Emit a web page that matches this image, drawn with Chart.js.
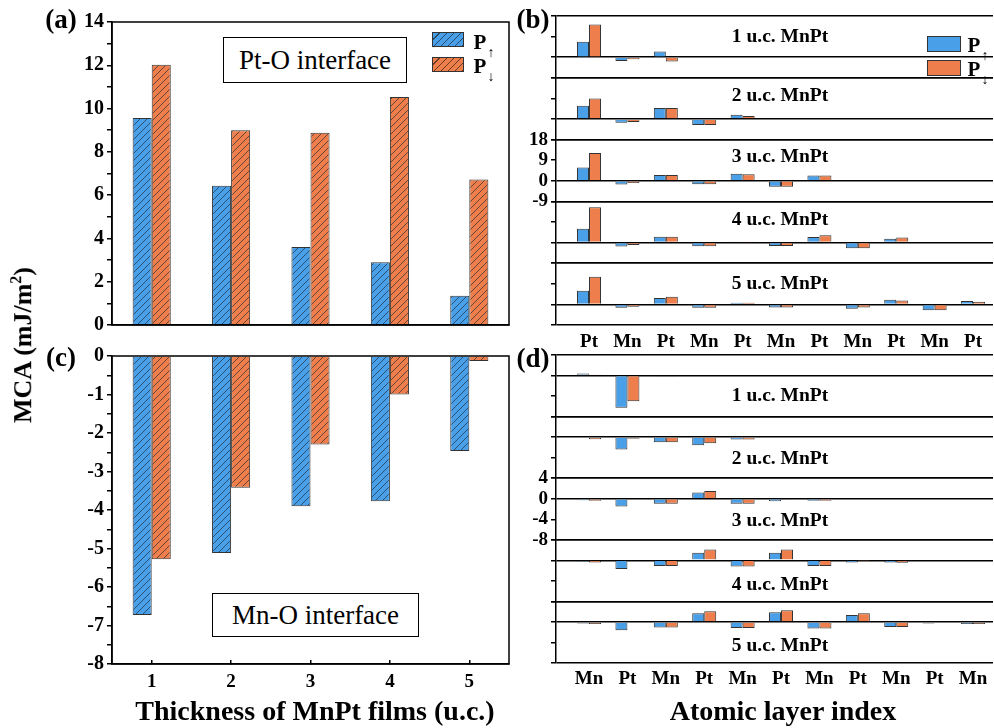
<!DOCTYPE html>
<html>
<head>
<meta charset="utf-8">
<script src="https://cdn.jsdelivr.net/npm/chart.js@4.4.1/dist/chart.umd.min.js"></script>
<style>
  body { margin: 0; background: #fff; width: 994px; height: 728px; overflow: hidden; position: relative;
         font-family: "Liberation Serif", "Times New Roman", serif; color: #000; }
  canvas { position: absolute; }
  .t { position: absolute; white-space: nowrap; transform: translate(-50%, -50%); line-height: 1; }
  .bold { font-weight: bold; }
  .panel { font-size: 27px; font-weight: bold; }
  .stripe { font-size: 19.5px; font-weight: bold; }
  .note { position: absolute; border: 1.5px solid #000; font-size: 27px; display: flex;
          align-items: center; justify-content: center; box-sizing: border-box; background: #fff; }
  .key { position: absolute; width: 32px; height: 15px; border: 1px solid #333; box-sizing: border-box; }
  .sub { font-size: 14px; font-weight: normal; position: relative; top: 8px; margin-left: 1px; }
</style>
</head>
<body>
<canvas id="chartA" width="520" height="345" style="left:0;top:0"></canvas>
<canvas id="chartC" width="520" height="370" style="left:0;top:330px"></canvas>
<canvas id="chartB" width="494" height="355" style="left:500px;top:0"></canvas>
<canvas id="chartD" width="494" height="363" style="left:500px;top:330px"></canvas>

<div class="t panel" style="left:61px;top:19px">(a)</div>
<div class="t panel" style="left:533px;top:19px">(b)</div>
<div class="t panel" style="left:61px;top:357px">(c)</div>
<div class="t panel" style="left:533px;top:358px">(d)</div>

<div class="t bold" style="left:22px;top:345px;font-size:26px;transform:translate(-50%,-50%) rotate(-90deg)">MCA (mJ/m<sup style="font-size:16px">2</sup>)</div>
<div class="t bold" style="left:315px;top:711px;font-size:28px">Thickness of MnPt films (u.c.)</div>
<div class="t bold" style="left:783px;top:711px;font-size:28px">Atomic layer index</div>

<div class="note" style="left:223px;top:37px;width:184px;height:46px">Pt-O interface</div>
<div class="note" style="left:212px;top:593px;width:207px;height:44px">Mn-O interface</div>

<!-- legend (a) -->
<div class="key" style="left:432px;top:32px;background:repeating-linear-gradient(135deg,#4a9fe9 0 4.2px,#2b4a68 4.2px 5px)"></div>
<div class="key" style="left:432px;top:57px;background:repeating-linear-gradient(135deg,#ee7e4b 0 4.2px,#6b3a22 4.2px 5px)"></div>
<div class="t bold" style="left:484px;top:42px;font-size:21px">P<span class="sub">↑</span></div>
<div class="t bold" style="left:484px;top:66px;font-size:21px">P<span class="sub">↓</span></div>

<!-- legend (b) -->
<div class="key" style="left:927px;top:36px;width:34px;height:16px;background:#4a9fe9"></div>
<div class="key" style="left:927px;top:60px;width:34px;height:16px;background:#ee7e4b"></div>
<div class="t bold" style="left:978px;top:45px;font-size:21px">P<span class="sub">↑</span></div>
<div class="t bold" style="left:978px;top:69px;font-size:21px">P<span class="sub">↓</span></div>

<div class="t stripe" style="left:780px;top:36px">1 u.c. MnPt</div>
<div class="t stripe" style="left:780px;top:95px">2 u.c. MnPt</div>
<div class="t stripe" style="left:780px;top:156px">3 u.c. MnPt</div>
<div class="t stripe" style="left:780px;top:219px">4 u.c. MnPt</div>
<div class="t stripe" style="left:780px;top:283px">5 u.c. MnPt</div>

<div class="t stripe" style="left:780px;top:395px">1 u.c. MnPt</div>
<div class="t stripe" style="left:780px;top:458px">2 u.c. MnPt</div>
<div class="t stripe" style="left:780px;top:520px">3 u.c. MnPt</div>
<div class="t stripe" style="left:780px;top:584px">4 u.c. MnPt</div>
<div class="t stripe" style="left:780px;top:645px">5 u.c. MnPt</div>

<script>
// (a) / (c): total MCA vs film thickness
const thickness = ['1', '2', '3', '4', '5'];
const ptoUp = [9.57, 6.43, 3.6, 2.9, 1.35];
const ptoDown = [12.03, 9.0, 8.88, 10.53, 6.72];
const mnoUp = [-6.73, -5.12, -3.9, -3.77, -2.47];
const mnoDown = [-5.28, -3.42, -2.3, -1.0, -0.13];

// (b) / (d): layer-resolved MCA, one row per film thickness (1..5 u.c.)
const layersB = ['Pt', 'Mn', 'Pt', 'Mn', 'Pt', 'Mn', 'Pt', 'Mn', 'Pt', 'Mn', 'Pt'];
const layersD = ['Mn', 'Pt', 'Mn', 'Pt', 'Mn', 'Pt', 'Mn', 'Pt', 'Mn', 'Pt', 'Mn'];

const ptoLayerUp = [
  [6.8, -1.7, 2.5],
  [5.8, -1.6, 4.8, -2.6, 1.9],
  [5.8, -1.6, 2.5, -1.5, 3.1, -2.6, 2.3],
  [6.0, -1.7, 2.6, -1.6, 0.2, -1.5, 2.5, -2.5, 1.7],
  [6.0, -1.5, 2.8, -1.5, 0.7, -1.3, 0, -1.9, 2.0, -2.6, 1.5]
];
const ptoLayerDown = [
  [14.3, -0.9, -1.9],
  [9.0, -1.3, 4.8, -2.6, 1.3],
  [12.2, -1.0, 2.5, -1.5, 2.9, -2.6, 2.3],
  [15.4, -1.0, 2.6, -1.6, 0.2, -1.5, 3.2, -2.5, 2.2],
  [12.1, -1.0, 3.3, -1.5, 0.7, -1.3, 0, -1.3, 1.7, -2.6, 1.2]
];
const mnoLayerUp = [
  [0.4, -6.3, -0.1],
  [-0.1, -2.4, -1.0, -1.6, -0.45],
  [-0.3, -1.5, -1.0, 1.2, -1.0, -0.5, -0.4],
  [-0.25, -1.7, -1.1, 1.5, -1.2, 1.5, -1.1, -0.4, -0.4],
  [-0.3, -1.6, -1.1, 1.7, -1.2, 1.9, -1.3, 1.35, -1.0, -0.3, -0.4]
];
const mnoLayerDown = [
  [0.1, -5.0, -0.1],
  [-0.4, -0.3, -1.0, -1.2, -0.45],
  [-0.4, -0.1, -1.0, 1.5, -1.0, -0.2, -0.4],
  [-0.4, -0.1, -1.1, 2.1, -1.2, 2.1, -1.1, -0.05, -0.45],
  [-0.4, -0.15, -1.1, 2.1, -1.2, 2.3, -1.3, 1.7, -1.0, 0, -0.4]
];

const BLUE = '#4a9fe9';
const ORANGE = '#ee7e4b';
const EDGE = '#333';

Chart.defaults.font.family = '"Liberation Serif", "Times New Roman", serif';
Chart.defaults.color = '#000';
Chart.defaults.animation = false;
Chart.defaults.plugins.legend.display = false;
Chart.defaults.plugins.tooltip.enabled = false;

const hatch = (color) => {
  const c = document.createElement('canvas');
  c.width = 7; c.height = 7;
  const g = c.getContext('2d');
  g.fillStyle = color;
  g.fillRect(0, 0, 7, 7);
  g.strokeStyle = 'rgba(25,35,45,0.8)';
  g.lineWidth = 0.8;
  g.beginPath();
  g.moveTo(-1, 8);
  g.lineTo(8, -1);
  g.stroke();
  return g.createPattern(c, 'repeat');
};

// box round the plot area of (a) and (c)
const frame = {
  id: 'frame',
  afterDraw(chart) {
    const { ctx, chartArea: a } = chart;
    ctx.save();
    ctx.strokeStyle = '#000';
    ctx.lineWidth = 1.5;
    ctx.strokeRect(a.left, a.top, a.right - a.left, a.bottom - a.top);
    ctx.restore();
  }
};

const thicknessChart = (id, up, down, yMin, yMax, step, showX, padTop, xHeight) => new Chart(document.getElementById(id), {
  type: 'bar',
  data: {
    labels: thickness,
    datasets: [
      { data: up, backgroundColor: hatch(BLUE), borderColor: EDGE, borderWidth: 1 },
      { data: down, backgroundColor: hatch(ORANGE), borderColor: EDGE, borderWidth: 1 }
    ]
  },
  options: {
    responsive: false,
    categoryPercentage: 0.48,
    barPercentage: 1.0,
    layout: { padding: { top: padTop, right: 11, left: 0, bottom: 0 } },
    scales: {
      x: {
        grid: { display: showX, drawOnChartArea: false, offset: false, tickLength: -4, tickColor: '#000', lineWidth: 1.5 },
        border: { display: true, color: '#000', width: 1.5 },
        ticks: { display: showX, padding: 11, font: { size: 19, weight: 'bold' } },
        afterFit: (s) => { s.height = xHeight; }
      },
      y: {
        min: yMin, max: yMax,
        grid: { drawOnChartArea: false, tickLength: 5, tickColor: '#000', lineWidth: 1.5 },
        border: { display: true, color: '#000', width: 1.5 },
        ticks: {
          stepSize: step, padding: 3, autoSkip: false, font: { size: 20, weight: 'bold' },
          callback: (v) => (Number.isInteger(v) && (step === 0.5 || v % 2 === 0) ? v : '')
        },
        afterFit: (s) => { s.width = 112; }
      }
    }
  },
  plugins: [frame]
});

thicknessChart('chartA', ptoUp, ptoDown, 0, 14, 1, false, 22, 20);
thicknessChart('chartC', mnoUp, mnoDown, -8, 0, 0.5, true, 26, 36);

const layerChart = (id, layers, ups, downs, yMin, yMax, step, labelPad, padTop) => {
  const scales = {
    x: {
      type: 'linear', position: 'bottom', min: 0.14, max: 11.52, offset: false,
      grid: { display: false, drawTicks: false },
      border: { display: false },
      ticks: {
        padding: labelPad, autoSkip: false, maxRotation: 0,
        font: { size: 19, weight: 'bold' },
        callback: (v, i) => layers[i]
      },
      afterBuildTicks: (s) => { s.ticks = layers.map((_, i) => ({ value: i + 1 })); },
      afterFit: (s) => { s.height = 30; }
    }
  };
  // left axes added later are laid out higher, so go from the thickest film up
  for (let k = ups.length - 1; k >= 0; k--) {
    scales['y' + k] = {
      type: 'linear', position: 'left', stack: 'rows', stackWeight: 1, stacked: false, offset: false,
      min: yMin, max: yMax,
      grid: {
        color: (c) => (c.tick && c.tick.value !== yMin && c.tick.value !== 0 && c.tick.value !== yMax ? 'rgba(0,0,0,0)' : '#000'),
        tickColor: '#000', tickLength: 5, lineWidth: 1.5
      },
      border: { display: true, color: '#000', width: 1.5 },
      ticks: {
        stepSize: step, padding: 3, autoSkip: false, font: { size: 19, weight: 'bold' },
        callback: (v) => (k === 2 ? v : '')
      },
      afterFit: (s) => { s.width = 56; }
    };
  }
  const datasets = [];
  ups.forEach((row, k) => {
    datasets.push({
      data: row.map((v, i) => ({ x: i + 1, y: v })), yAxisID: 'y' + k, stack: 'up',
      backgroundColor: BLUE, borderColor: EDGE, borderWidth: 1
    });
    datasets.push({
      data: downs[k].map((v, i) => ({ x: i + 1, y: v })), yAxisID: 'y' + k, stack: 'down',
      backgroundColor: ORANGE, borderColor: EDGE, borderWidth: 1
    });
  });
  new Chart(document.getElementById(id), {
    type: 'bar',
    data: { datasets },
    options: {
      responsive: false,
      categoryPercentage: 0.625,
      barPercentage: 1.0,
      layout: { padding: { top: padTop, right: 1, left: 0, bottom: 0 } },
      scales
    }
  });
};

layerChart('chartB', layersB, ptoLayerUp, ptoLayerDown, -9, 18, 9, 6, 16);
layerChart('chartD', layersD, mnoLayerUp, mnoLayerDown, -8, 4, 4, 5, 25);
</script>
</body>
</html>
